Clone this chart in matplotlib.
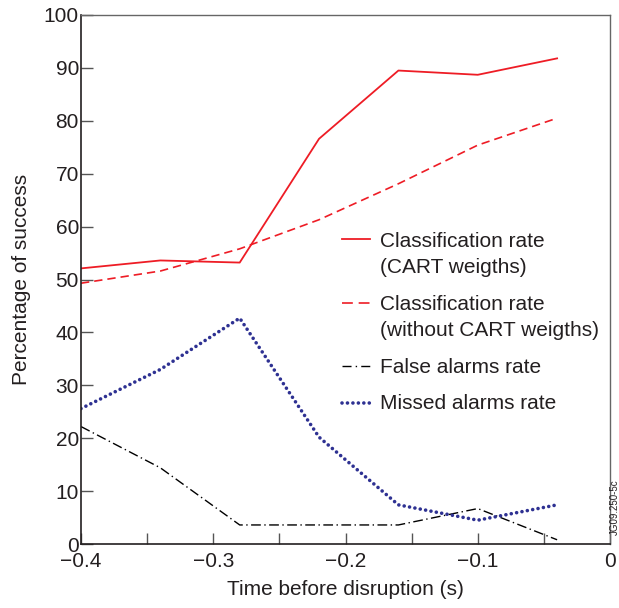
import matplotlib
matplotlib.use("Agg")
import matplotlib.pyplot as plt
from matplotlib.lines import Line2D
from matplotlib.ticker import MultipleLocator

plt.rcParams['font.family'] = ['Liberation Sans', 'DejaVu Sans']

time_s = [-0.40, -0.34, -0.28, -0.22, -0.16, -0.10, -0.04]
class_cart = [52.1, 53.6, 53.2, 76.6, 89.5, 88.7, 91.8]
class_nocart = [49.3, 51.6, 55.8, 61.3, 68.1, 75.4, 80.5]
false_alarms = [22.2, 14.4, 3.6, 3.6, 3.6, 6.7, 0.8]
missed_alarms = [25.6, 33.0, 42.7, 20.2, 7.4, 4.5, 7.4]

labels = ["Classification rate\n(CART weigths)",
          "Classification rate\n(without CART weigths)",
          "False alarms rate",
          "Missed alarms rate"]

red = '#ee1c25'
blue = '#2e3192'
txt = '#231f20'

fig = plt.figure(figsize=(6.19, 6.08), dpi=100)
ax = fig.add_axes([81/619, 1-544/608, 529/619, 529/608])

styles = [
    dict(color=red, lw=1.3, ls='-'),
    dict(color=red, lw=1.2, ls=(0, (5, 3))),
    dict(color='black', lw=1.0, ls=(0, (7, 2.5, 1, 2.5))),
    dict(color=blue, lw=2.6, ls=(0, (0.01, 1.5)), dash_capstyle='round'),
]
series = [class_cart, class_nocart, false_alarms, missed_alarms]
for s, st in zip(series, styles):
    ax.plot(time_s, s, **st)

ax.set_xlim(-0.4, 0)
ax.set_ylim(0, 100)
ax.xaxis.set_major_locator(MultipleLocator(0.1))
ax.xaxis.set_minor_locator(MultipleLocator(0.05))
ax.yaxis.set_major_locator(MultipleLocator(10))
ax.xaxis.set_major_formatter(matplotlib.ticker.FuncFormatter(
    lambda v, p: '0' if abs(v) < 1e-9 else ('\u2212%.1f' % abs(v) if v < 0 else '%.1f' % v)))
ax.tick_params(axis='both', which='both', direction='in', colors='#555555',
               labelcolor=txt, labelsize=15, width=1.0)
ax.tick_params(axis='y', which='major', length=8.5, pad=1.5)
ax.tick_params(axis='x', which='both', length=8, pad=5.5)

for side in ['left', 'bottom']:
    ax.spines[side].set_color('#231f20')
    ax.spines[side].set_linewidth(1.2)
for side in ['top', 'right']:
    ax.spines[side].set_color('#666666')
    ax.spines[side].set_linewidth(1.0)

ax.set_xlabel("Time before disruption (s)", fontsize=15, color=txt, labelpad=7)
ax.set_ylabel("Percentage of success", fontsize=15, color=txt, labelpad=9)

# manual legend (axes fraction)
def fx(px):
    return (px - 81) / 529
def fy(py):
    return (544 - py) / 529

handle_y = [239, 303.3, 365.7, 403.3]
baselines = [[246.7, 272.7], [310, 336], [372.7], [409.3]]
leg_styles = [
    dict(color=red, lw=1.3, ls='-'),
    dict(color=red, lw=1.2, ls=(0, (6.5, 3.5))),
    dict(color='black', lw=1.0, ls=(0, (6.5, 3, 1, 3))),
    dict(color=blue, lw=2.6, ls=(0, (0.01, 1.5)), dash_capstyle='round'),
]
for hy, bl, st, lab in zip(handle_y, baselines, leg_styles, labels):
    ax.add_line(Line2D([fx(342), fx(370)], [fy(hy), fy(hy)], transform=ax.transAxes, **st))
    for line, b in zip(lab.split('\n'), bl):
        ax.text(fx(380), fy(b), line, transform=ax.transAxes, fontsize=15,
                color=txt, va='baseline', ha='left')

fig.text(614.5/619, 1-507/608, "JG09.250-5c", rotation=90, fontsize=7,
         color=txt, ha='center', va='center')

fig.savefig("out.png", dpi=100)
